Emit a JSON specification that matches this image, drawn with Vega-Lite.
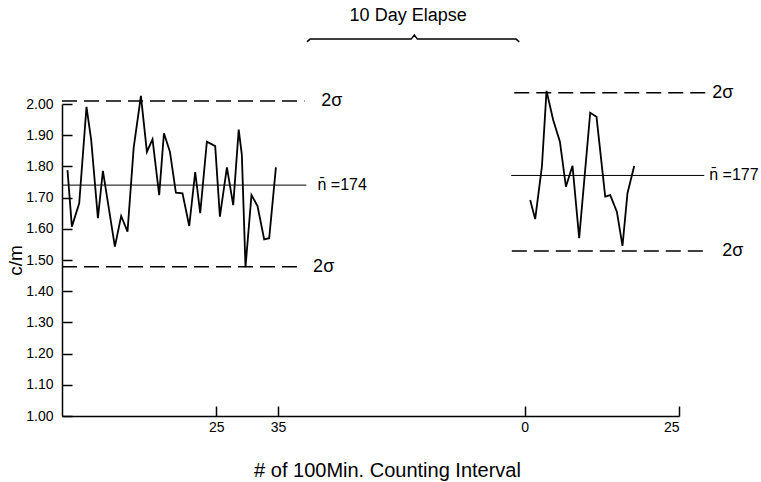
{
  "$schema": "https://vega.github.io/schema/vega-lite/v6.json",
  "width": 617,
  "height": 312,
  "autosize": {"type": "none"},
  "padding": {"left": 62, "top": 104, "right": 82, "bottom": 66},
  "background": "white",
  "config": {
    "view": {"stroke": null},
    "font": "Liberation Sans",
    "axis": {"grid": false, "domainColor": "black", "tickColor": "black", "labelColor": "black", "titleColor": "black", "labelFont": "Liberation Sans", "titleFont": "Liberation Sans", "titleFontWeight": "normal", "labelOverlap": false}
  },
  "datasets": {
    "series": [
      {"panel": "before", "x": 0.89, "y": 1.788},
      {"panel": "before", "x": 1.60, "y": 1.607},
      {"panel": "before", "x": 2.79, "y": 1.682},
      {"panel": "before", "x": 3.97, "y": 1.991},
      {"panel": "before", "x": 4.73, "y": 1.885},
      {"panel": "before", "x": 5.82, "y": 1.634},
      {"panel": "before", "x": 6.63, "y": 1.786},
      {"panel": "before", "x": 8.57, "y": 1.543},
      {"panel": "before", "x": 9.59, "y": 1.641},
      {"panel": "before", "x": 10.62, "y": 1.591},
      {"panel": "before", "x": 11.62, "y": 1.86},
      {"panel": "before", "x": 12.79, "y": 2.026},
      {"panel": "before", "x": 13.76, "y": 1.847},
      {"panel": "before", "x": 14.67, "y": 1.887},
      {"panel": "before", "x": 15.75, "y": 1.708},
      {"panel": "before", "x": 16.52, "y": 1.906},
      {"panel": "before", "x": 17.49, "y": 1.847},
      {"panel": "before", "x": 18.46, "y": 1.716},
      {"panel": "before", "x": 19.53, "y": 1.714},
      {"panel": "before", "x": 20.62, "y": 1.609},
      {"panel": "before", "x": 21.59, "y": 1.782},
      {"panel": "before", "x": 22.40, "y": 1.650},
      {"panel": "before", "x": 23.48, "y": 1.879},
      {"panel": "before", "x": 24.83, "y": 1.865},
      {"panel": "before", "x": 25.59, "y": 1.639},
      {"panel": "before", "x": 26.73, "y": 1.797},
      {"panel": "before", "x": 27.75, "y": 1.676},
      {"panel": "before", "x": 28.64, "y": 1.918},
      {"panel": "before", "x": 29.15, "y": 1.837},
      {"panel": "before", "x": 29.74, "y": 1.477},
      {"panel": "before", "x": 30.71, "y": 1.708},
      {"panel": "before", "x": 31.69, "y": 1.673},
      {"panel": "before", "x": 32.77, "y": 1.566},
      {"panel": "before", "x": 33.58, "y": 1.570},
      {"panel": "before", "x": 34.67, "y": 1.797},
      {"panel": "after", "x": 75.88, "y": 1.692},
      {"panel": "after", "x": 76.69, "y": 1.631},
      {"panel": "after", "x": 77.78, "y": 1.799},
      {"panel": "after", "x": 78.53, "y": 2.042},
      {"panel": "after", "x": 79.61, "y": 1.949},
      {"panel": "after", "x": 80.70, "y": 1.879},
      {"panel": "after", "x": 81.67, "y": 1.735},
      {"panel": "after", "x": 82.74, "y": 1.802},
      {"panel": "after", "x": 83.82, "y": 1.570},
      {"panel": "after", "x": 85.61, "y": 1.972},
      {"panel": "after", "x": 86.63, "y": 1.959},
      {"panel": "after", "x": 88.04, "y": 1.703},
      {"panel": "after", "x": 88.85, "y": 1.708},
      {"panel": "after", "x": 89.93, "y": 1.655},
      {"panel": "after", "x": 90.84, "y": 1.545},
      {"panel": "after", "x": 91.65, "y": 1.714},
      {"panel": "after", "x": 92.74, "y": 1.801}
    ],
    "means": [
      {"id": "m1", "x": 0, "y": 1.74},
      {"id": "m1", "x": 39.6, "y": 1.74},
      {"id": "m2", "x": 72.8, "y": 1.771},
      {"id": "m2", "x": 104.1, "y": 1.771}
    ],
    "sigmas": [
      {"id": "s1", "x": 0, "y": 2.01},
      {"id": "s1", "x": 39.3, "y": 2.01},
      {"id": "s2", "x": 0, "y": 1.478},
      {"id": "s2", "x": 38.4, "y": 1.478},
      {"id": "s3", "x": 73.3, "y": 2.036},
      {"id": "s3", "x": 104.4, "y": 2.036},
      {"id": "s4", "x": 72.9, "y": 1.529},
      {"id": "s4", "x": 104.1, "y": 1.529}
    ],
    "sigmaLabels": [
      {"x": 42.0, "y": 2.01, "label": "2σ"},
      {"x": 40.7, "y": 1.478, "label": "2σ"},
      {"x": 105.4, "y": 2.036, "label": "2σ"},
      {"x": 107.0, "y": 1.529, "label": "2σ"}
    ],
    "meanLabels": [
      {"x": 41.4, "y": 1.74, "label": "n̄ =174"},
      {"x": 104.9, "y": 1.771, "label": "n̄ =177"}
    ],
    "brace": [
      {"x": 39.7, "y": 2.199},
      {"x": 40.2, "y": 2.208},
      {"x": 56.6, "y": 2.208},
      {"x": 57.1, "y": 2.221},
      {"x": 57.6, "y": 2.208},
      {"x": 73.6, "y": 2.208},
      {"x": 74.1, "y": 2.199}
    ],
    "heading": [
      {"x": 56.1, "y": 2.282, "label": "10 Day Elapse"}
    ]
  },
  "layer": [
    {
      "data": {"name": "series"},
      "mark": {"type": "line", "color": "black", "strokeWidth": 1.8},
      "encoding": {
        "x": {
          "field": "x", "type": "quantitative",
          "scale": {"domain": [0, 100], "nice": false, "zero": false},
          "axis": {
            "values": [25, 35, 75, 100],
            "tickCount": 20,
            "labelExpr": "datum.value >= 75 ? format(datum.value - 75, 'd') : format(datum.value, 'd')",
            "tickSize": -10, "tickWidth": 1.5, "domainWidth": 1.5,
            "labelFontSize": 14, "labelPadding": 14, "labelBaseline": "top",
            "title": "# of 100Min. Counting Interval",
            "titleFontSize": 20, "titleX": 325, "titleY": 54, "titleAnchor": null, "titleAlign": "center", "titleBaseline": "middle"
          }
        },
        "y": {
          "field": "y", "type": "quantitative",
          "scale": {"domain": [1, 2], "nice": false, "zero": false},
          "axis": {
            "values": [1, 1.1, 1.2, 1.3, 1.4, 1.5, 1.6, 1.7, 1.8, 1.9, 2],
            "tickCount": 20,
            "labelOverlap": false,
            "format": ".2f",
            "tickSize": -10, "tickWidth": 1.5, "domainWidth": 1.5,
            "labelFontSize": 14, "labelPadding": 19,
            "title": "c/m", "titleFontSize": 19, "titleAngle": -90,
            "titleX": -47, "titleY": 156, "titleAlign": "center", "titleBaseline": "middle"
          }
        },
        "detail": {"field": "panel"}
      }
    },
    {
      "data": {"name": "means"},
      "mark": {"type": "line", "color": "black", "strokeWidth": 1},
      "encoding": {
        "x": {"field": "x", "type": "quantitative"},
        "y": {"field": "y", "type": "quantitative"},
        "detail": {"field": "id"}
      }
    },
    {
      "data": {"name": "sigmas"},
      "mark": {"type": "line", "color": "black", "strokeWidth": 1.5, "strokeDash": [15, 7]},
      "encoding": {
        "x": {"field": "x", "type": "quantitative"},
        "y": {"field": "y", "type": "quantitative"},
        "detail": {"field": "id"}
      }
    },
    {
      "data": {"name": "sigmaLabels"},
      "mark": {"type": "text", "align": "left", "baseline": "middle", "fontSize": 18, "color": "black"},
      "encoding": {
        "x": {"field": "x", "type": "quantitative"},
        "y": {"field": "y", "type": "quantitative"},
        "text": {"field": "label"}
      }
    },
    {
      "data": {"name": "meanLabels"},
      "mark": {"type": "text", "align": "left", "baseline": "middle", "fontSize": 16, "color": "black"},
      "encoding": {
        "x": {"field": "x", "type": "quantitative"},
        "y": {"field": "y", "type": "quantitative"},
        "text": {"field": "label"}
      }
    },
    {
      "data": {"name": "brace"},
      "mark": {"type": "line", "color": "black", "strokeWidth": 1.5},
      "encoding": {
        "x": {"field": "x", "type": "quantitative"},
        "y": {"field": "y", "type": "quantitative"}
      }
    },
    {
      "data": {"name": "heading"},
      "mark": {"type": "text", "align": "center", "baseline": "middle", "fontSize": 18, "color": "black"},
      "encoding": {
        "x": {"field": "x", "type": "quantitative"},
        "y": {"field": "y", "type": "quantitative"},
        "text": {"field": "label"}
      }
    }
  ]
}
